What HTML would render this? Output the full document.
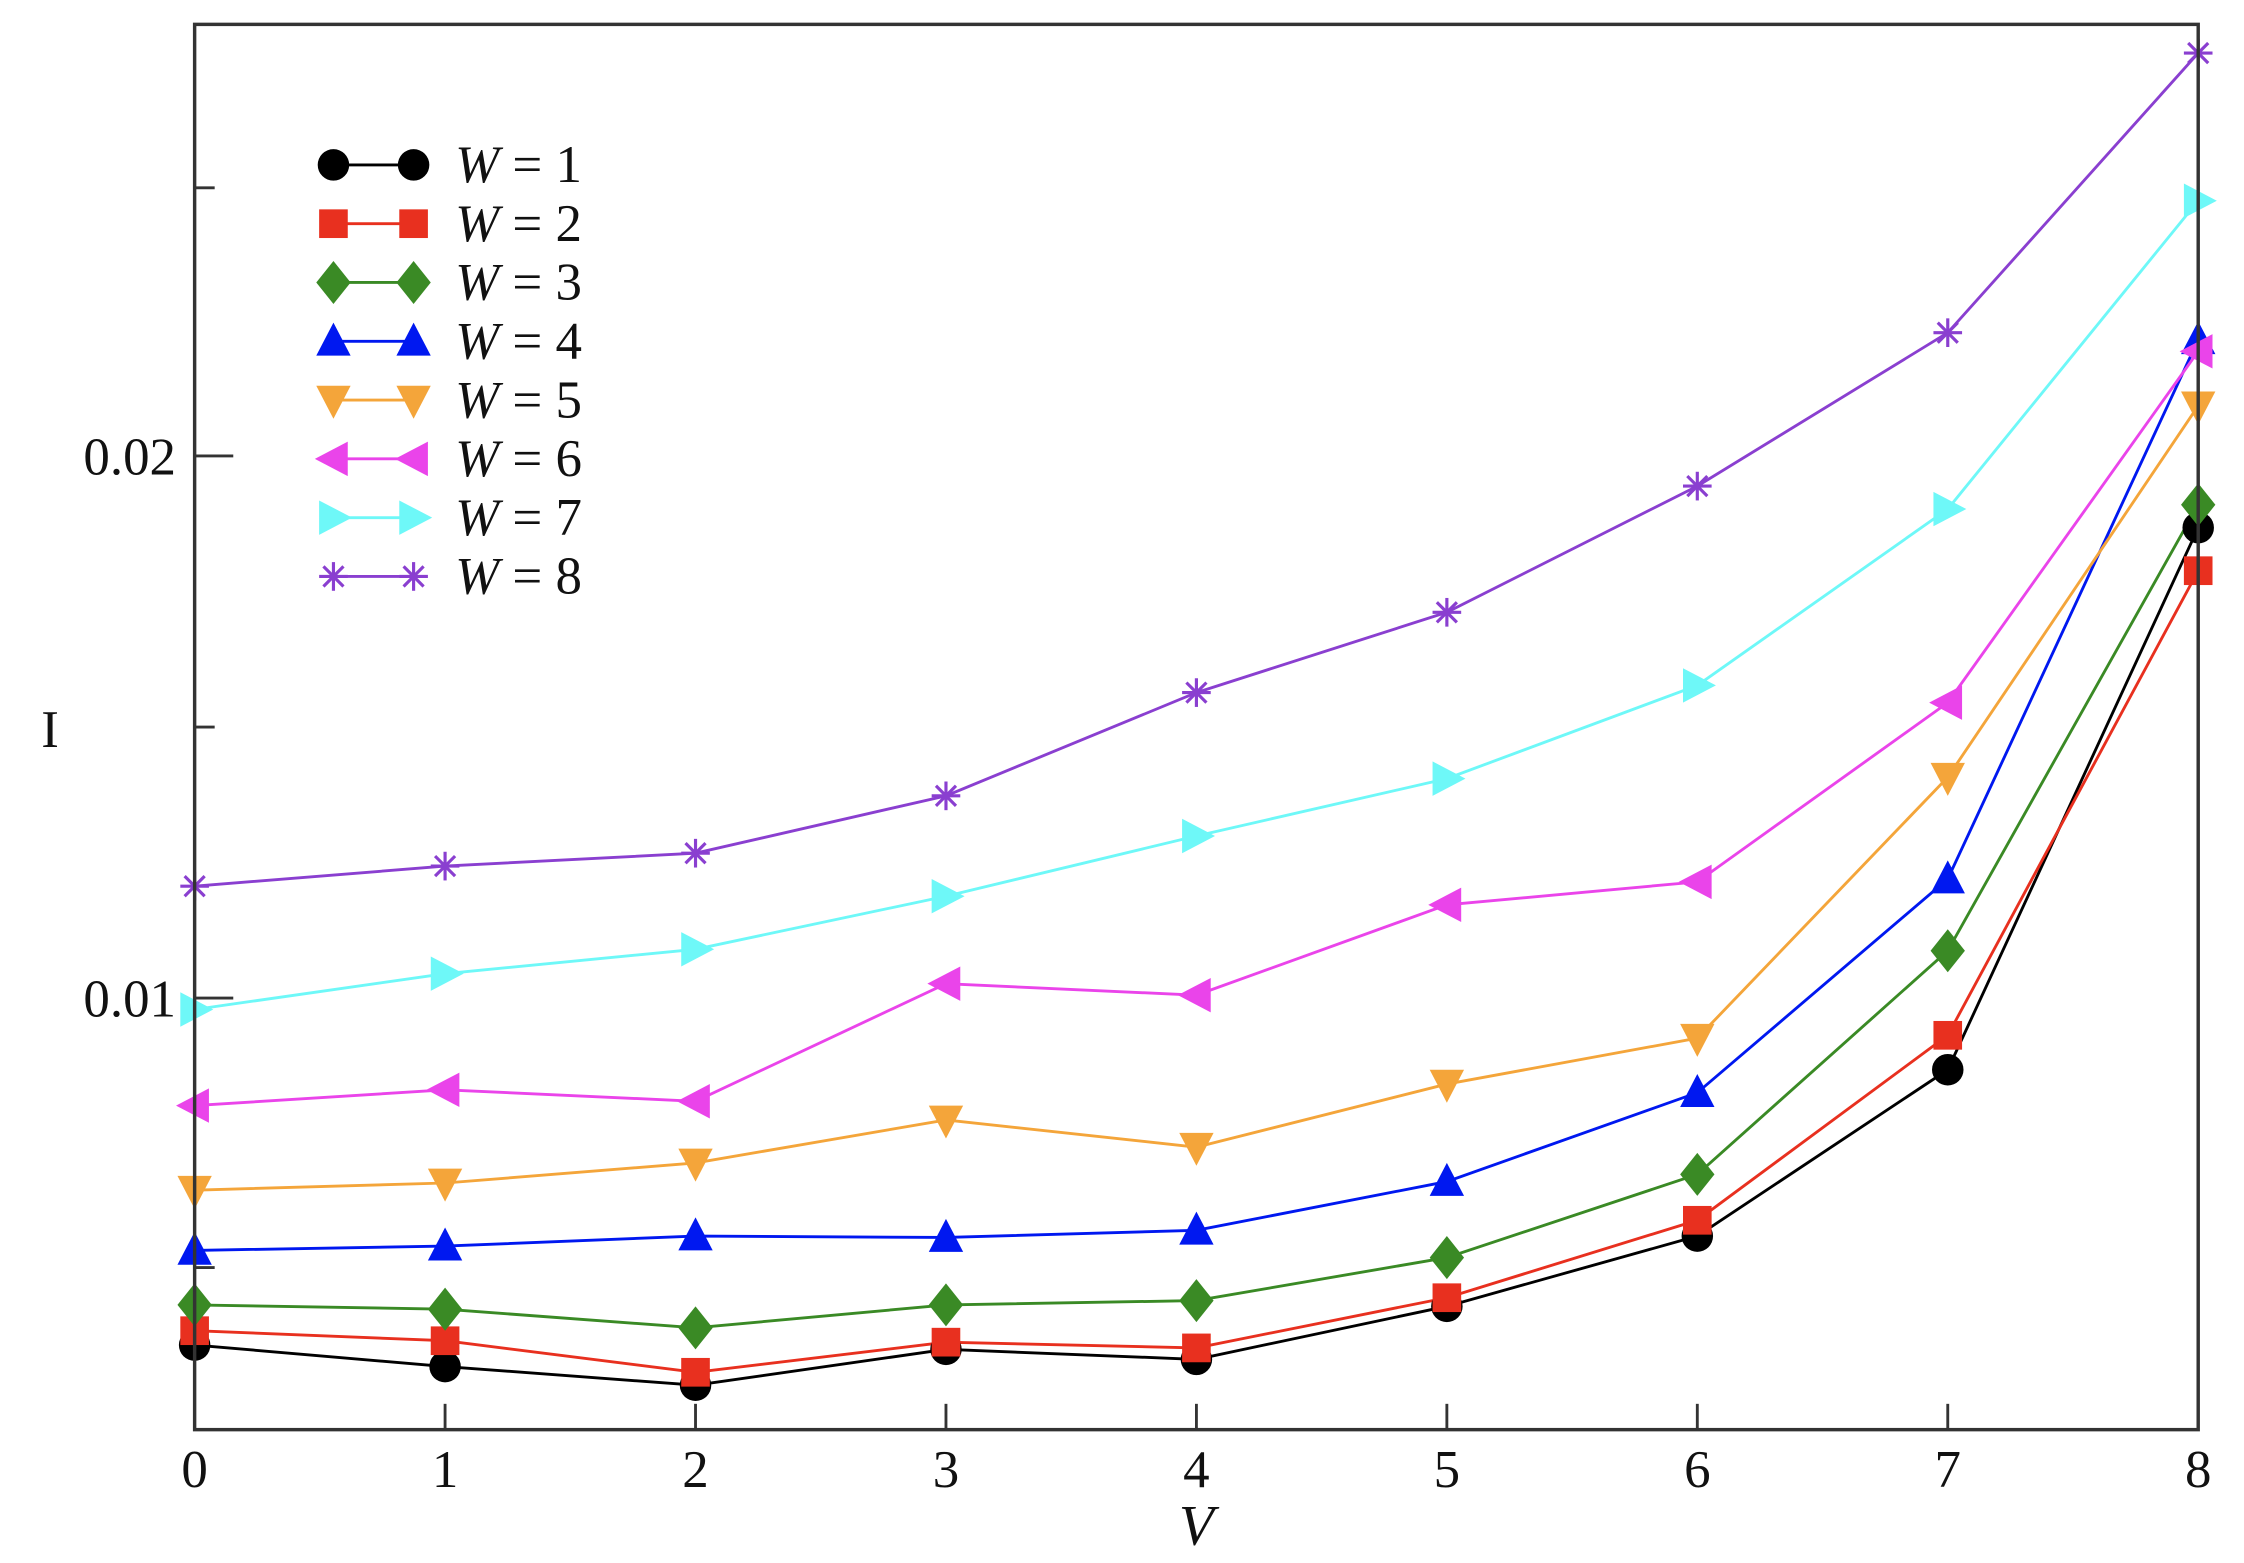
<!DOCTYPE html>
<html><head><meta charset="utf-8"><style>html,body{margin:0;padding:0;background:#fff}svg{display:block}</style></head>
<body>
<svg width="2244" height="1563" viewBox="0 0 1568 1090" preserveAspectRatio="none" xmlns="http://www.w3.org/2000/svg" font-family="Liberation Serif, serif">
<defs>
<circle id="m1" r="11" fill="#000"/>
<rect id="m2" x="-10" y="-10" width="20" height="20" fill="#e8301f"/>
<polygon id="m3" points="0,-15 12,0 0,15 -12,0" fill="#3a8a25"/>
<polygon id="m4" points="0,-13 12,10 -12,10" fill="#0018f0"/>
<polygon id="m5" points="0,13 12,-10 -12,-10" fill="#f4a53a"/>
<polygon id="m6" points="-13,0 10,-12 10,12" fill="#ea44ea"/>
<polygon id="m7" points="13,0 -10,-12 -10,12" fill="#6ef8f8"/>
<g id="m8" stroke="#8a3fd0" stroke-width="2.2"><line x1="-10" y1="0" x2="10" y2="0"/><line x1="0" y1="-10" x2="0" y2="10"/><line x1="-7" y1="-7" x2="7" y2="7"/><line x1="-7" y1="7" x2="7" y2="-7"/></g>
</defs>
<g fill="none" stroke-width="2">
<polyline stroke="#000" points="136,938 311,953 486,966 661,941 836,948 1011,911 1186,862 1361,746 1536,368"/>
<polyline stroke="#e8301f" points="136,928 311,935 486,957 661,936 836,940 1011,905 1186,851 1361,722 1536,398"/>
<polyline stroke="#3a8a25" points="136,910 311,913 486,926 661,910 836,907 1011,877 1186,819 1361,663 1536,352"/>
<polyline stroke="#0018f0" points="136,872 311,869 486,862 661,863 836,858 1011,824 1186,762 1361,613 1536,237"/>
<polyline stroke="#f4a53a" points="136,830 311,825 486,811 661,781 836,800 1011,756 1186,724 1361,542 1536,283"/>
<polyline stroke="#ea44ea" points="136,771 311,760 486,768 661,686 836,694 1011,631 1186,615 1361,490 1536,245"/>
<polyline stroke="#6ef8f8" points="136,704 311,679 486,662 661,625 836,583 1011,543 1186,478 1361,355 1536,140"/>
<polyline stroke="#8a3fd0" points="136,618 311,604 486,595 661,555 836,483 1011,427 1186,339 1361,232 1536,37"/>
</g>
<g>
<use href="#m1" x="136" y="938"/><use href="#m1" x="311" y="953"/><use href="#m1" x="486" y="966"/><use href="#m1" x="661" y="941"/><use href="#m1" x="836" y="948"/><use href="#m1" x="1011" y="911"/><use href="#m1" x="1186" y="862"/><use href="#m1" x="1361" y="746"/><use href="#m1" x="1536" y="368"/>
<use href="#m2" x="136" y="928"/><use href="#m2" x="311" y="935"/><use href="#m2" x="486" y="957"/><use href="#m2" x="661" y="936"/><use href="#m2" x="836" y="940"/><use href="#m2" x="1011" y="905"/><use href="#m2" x="1186" y="851"/><use href="#m2" x="1361" y="722"/><use href="#m2" x="1536" y="398"/>
<use href="#m3" x="136" y="910"/><use href="#m3" x="311" y="913"/><use href="#m3" x="486" y="926"/><use href="#m3" x="661" y="910"/><use href="#m3" x="836" y="907"/><use href="#m3" x="1011" y="877"/><use href="#m3" x="1186" y="819"/><use href="#m3" x="1361" y="663"/><use href="#m3" x="1536" y="352"/>
<use href="#m4" x="136" y="872"/><use href="#m4" x="311" y="869"/><use href="#m4" x="486" y="862"/><use href="#m4" x="661" y="863"/><use href="#m4" x="836" y="858"/><use href="#m4" x="1011" y="824"/><use href="#m4" x="1186" y="762"/><use href="#m4" x="1361" y="613"/><use href="#m4" x="1536" y="237"/>
<use href="#m5" x="136" y="830"/><use href="#m5" x="311" y="825"/><use href="#m5" x="486" y="811"/><use href="#m5" x="661" y="781"/><use href="#m5" x="836" y="800"/><use href="#m5" x="1011" y="756"/><use href="#m5" x="1186" y="724"/><use href="#m5" x="1361" y="542"/><use href="#m5" x="1536" y="283"/>
<use href="#m6" x="136" y="771"/><use href="#m6" x="311" y="760"/><use href="#m6" x="486" y="768"/><use href="#m6" x="661" y="686"/><use href="#m6" x="836" y="694"/><use href="#m6" x="1011" y="631"/><use href="#m6" x="1186" y="615"/><use href="#m6" x="1361" y="490"/><use href="#m6" x="1536" y="245"/>
<use href="#m7" x="136" y="704"/><use href="#m7" x="311" y="679"/><use href="#m7" x="486" y="662"/><use href="#m7" x="661" y="625"/><use href="#m7" x="836" y="583"/><use href="#m7" x="1011" y="543"/><use href="#m7" x="1186" y="478"/><use href="#m7" x="1361" y="355"/><use href="#m7" x="1536" y="140"/>
<use href="#m8" x="136" y="618"/><use href="#m8" x="311" y="604"/><use href="#m8" x="486" y="595"/><use href="#m8" x="661" y="555"/><use href="#m8" x="836" y="483"/><use href="#m8" x="1011" y="427"/><use href="#m8" x="1186" y="339"/><use href="#m8" x="1361" y="232"/><use href="#m8" x="1536" y="37"/>
</g>
<rect x="136" y="17" width="1400" height="980" fill="none" stroke="#333" stroke-width="2.4"/>
<g stroke="#333" stroke-width="2">
<line x1="136" y1="318" x2="163" y2="318"/><line x1="136" y1="696" x2="163" y2="696"/>
<line x1="136" y1="131" x2="150" y2="131"/><line x1="136" y1="507" x2="150" y2="507"/><line x1="136" y1="884" x2="150" y2="884"/>
<line x1="311" y1="997" x2="311" y2="979"/><line x1="486" y1="997" x2="486" y2="979"/><line x1="661" y1="997" x2="661" y2="979"/><line x1="836" y1="997" x2="836" y2="979"/><line x1="1011" y1="997" x2="1011" y2="979"/><line x1="1186" y1="997" x2="1186" y2="979"/><line x1="1361" y1="997" x2="1361" y2="979"/>
</g>
<g font-size="37" fill="#111" text-anchor="middle">
<text x="136" y="1037">0</text><text x="311" y="1037">1</text><text x="486" y="1037">2</text><text x="661" y="1037">3</text><text x="836" y="1037">4</text><text x="1011" y="1037">5</text><text x="1186" y="1037">6</text><text x="1361" y="1037">7</text><text x="1536" y="1037">8</text>
</g>
<g font-size="37" fill="#111" text-anchor="end">
<text x="123" y="331">0.02</text><text x="123" y="709">0.01</text>
</g>
<text x="836" y="1077" font-size="40" font-style="italic" text-anchor="middle" fill="#111">V</text>
<text x="35" y="521" font-size="37" text-anchor="middle" fill="#111">I</text>
<g stroke-width="2" fill="none">
<line x1="233" y1="115" x2="289" y2="115" stroke="#000"/>
<line x1="233" y1="156" x2="289" y2="156" stroke="#e8301f"/>
<line x1="233" y1="197" x2="289" y2="197" stroke="#3a8a25"/>
<line x1="233" y1="238" x2="289" y2="238" stroke="#0018f0"/>
<line x1="233" y1="279" x2="289" y2="279" stroke="#f4a53a"/>
<line x1="233" y1="320" x2="289" y2="320" stroke="#ea44ea"/>
<line x1="233" y1="361" x2="289" y2="361" stroke="#6ef8f8"/>
<line x1="233" y1="402" x2="289" y2="402" stroke="#8a3fd0"/>
</g>
<use href="#m1" x="233" y="115"/><use href="#m1" x="289" y="115"/>
<use href="#m2" x="233" y="156"/><use href="#m2" x="289" y="156"/>
<use href="#m3" x="233" y="197"/><use href="#m3" x="289" y="197"/>
<use href="#m4" x="233" y="238"/><use href="#m4" x="289" y="238"/>
<use href="#m5" x="233" y="279"/><use href="#m5" x="289" y="279"/>
<use href="#m6" x="233" y="320"/><use href="#m6" x="289" y="320"/>
<use href="#m7" x="233" y="361"/><use href="#m7" x="289" y="361"/>
<use href="#m8" x="233" y="402"/><use href="#m8" x="289" y="402"/>
<g font-size="37" fill="#111">
<text x="318" y="127"><tspan font-style="italic">W</tspan> = 1</text>
<text x="318" y="168"><tspan font-style="italic">W</tspan> = 2</text>
<text x="318" y="209"><tspan font-style="italic">W</tspan> = 3</text>
<text x="318" y="250"><tspan font-style="italic">W</tspan> = 4</text>
<text x="318" y="291"><tspan font-style="italic">W</tspan> = 5</text>
<text x="318" y="332"><tspan font-style="italic">W</tspan> = 6</text>
<text x="318" y="373"><tspan font-style="italic">W</tspan> = 7</text>
<text x="318" y="414"><tspan font-style="italic">W</tspan> = 8</text>
</g>
</svg>
</body></html>
